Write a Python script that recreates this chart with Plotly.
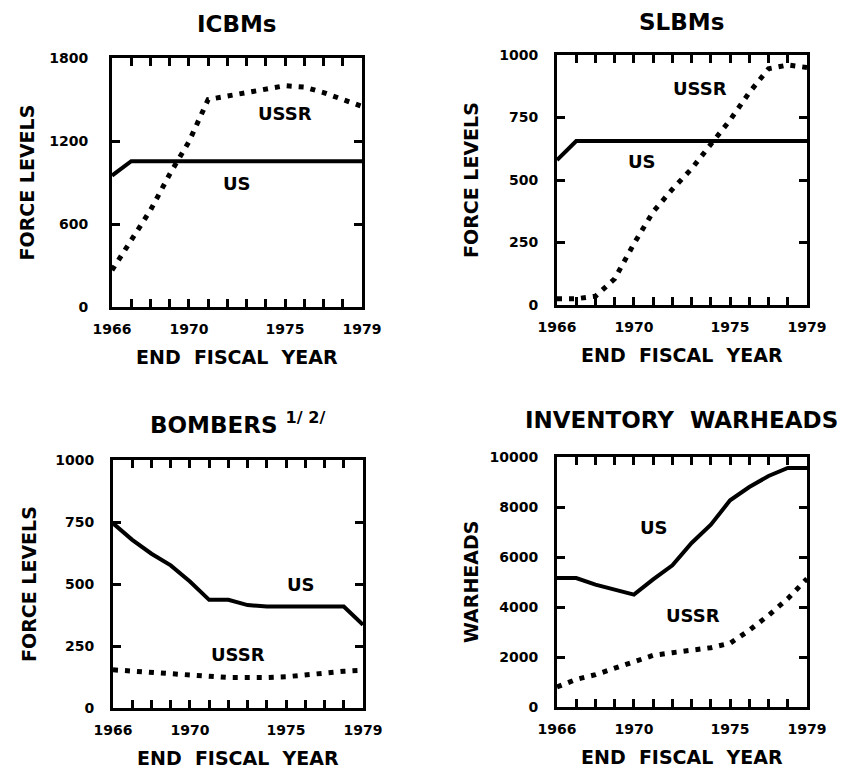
"""
Forces stratégiques US / URSS 1966-1979 — quatre petits graphiques.
"""

import plotly.graph_objects as go

# Données
YEARS = list(range(1966, 1980))
YEAR_LABELS = ["1966", "", "", "", "1970", "", "", "", "", "1975", "", "", "", "1979"]

ICBM_US = [950, 1054, 1054, 1054, 1054, 1054, 1054, 1054, 1054, 1054, 1054, 1054, 1054, 1054]
ICBM_USSR = [266, 488, 700, 960, 1195, 1500, 1525, 1550, 1580, 1600, 1590, 1550, 1500, 1450]

SLBM_US = [580, 656, 656, 656, 656, 656, 656, 656, 656, 656, 656, 656, 656, 656]
SLBM_USSR = [25, 25, 35, 105, 245, 373, 463, 545, 643, 740, 850, 945, 960, 950]

BOMB_US = [745, 678, 622, 575, 510, 436, 436, 415, 409, 409, 409, 409, 409, 336]
BOMB_USSR = [154, 148, 141, 137, 132, 128, 123, 121, 123, 126, 134, 141, 148, 152]

WARH_US = [5160, 5160, 4893, 4707, 4493, 5107, 5667, 6560, 7293, 8267, 8800, 9240, 9560, 9560]
WARH_USSR = [800, 1107, 1293, 1560, 1827, 2067, 2173, 2253, 2373, 2550, 3070, 3667, 4333, 5133]

ICBM_TICKS = [0, 600, 1200, 1800]
SLBM_TICKS = [0, 250, 500, 750, 1000]
BOMB_TICKS = [0, 250, 500, 750, 1000]
WARH_TICKS = [0, 2000, 4000, 6000, 8000, 10000]

W, H = 848, 771
OFF = 8  # marge du <body> de la page html
FONT = "DejaVu Sans"
NOIR = "black"


def px(x):
    return (x - OFF) / W


def py(y):
    return 1 - (y - OFF) / H


# zones des graphiques en pixels écran (gauche, droite, haut, bas)
PANELS = [
    dict(box=(112, 362, 58, 307), us=ICBM_US, ussr=ICBM_USSR, ticks=ICBM_TICKS,
         title="ICBMs", title_xy=(237, 24), ytitle="FORCE LEVELS", ytitle_x=27,
         us_lbl=(1972.5, 894), ussr_lbl=(1975.0, 1401), standoff=18),
    dict(box=(557, 807, 55, 305), us=SLBM_US, ussr=SLBM_USSR, ticks=SLBM_TICKS,
         title="SLBMs", title_xy=(681, 22), ytitle="FORCE LEVELS", ytitle_x=471,
         us_lbl=(1970.4, 573), ussr_lbl=(1973.45, 867), standoff=13),
    dict(box=(113, 363, 460, 708), us=BOMB_US, ussr=BOMB_USSR, ticks=BOMB_TICKS,
         title="BOMBERS <sup>1/ 2/</sup>", title_xy=(237, 423), ytitle="FORCE LEVELS", ytitle_x=29,
         us_lbl=(1975.75, 497), ussr_lbl=(1972.5, 215), standoff=13),
    dict(box=(557, 807, 457, 707), us=WARH_US, ussr=WARH_USSR, ticks=WARH_TICKS,
         title="INVENTORY  WARHEADS", title_xy=(681, 420), ytitle="WARHEADS", ytitle_x=471,
         us_lbl=(1971.05, 7200), ussr_lbl=(1973.05, 3667), standoff=13),
]

fig = go.Figure()
annotations = []


def texte(txt, x, y, size, angle=0, xref="paper", yref="paper"):
    return dict(
        text=txt, x=x, y=y, xref=xref, yref=yref, showarrow=False,
        xanchor="center", yanchor="middle", textangle=angle,
        font=dict(family=FONT, size=size, color=NOIR, weight="bold"),
    )


for i, p in enumerate(PANELS):
    n = "" if i == 0 else str(i + 1)
    xa, ya = "x" + n, "y" + n
    l, r, t, b = p["box"]

    fig.add_trace(go.Scatter(
        x=YEARS, y=p["us"], xaxis=xa, yaxis=ya, mode="lines",
        line=dict(color=NOIR, width=4), showlegend=False, hoverinfo="skip",
    ))
    fig.add_trace(go.Scatter(
        x=YEARS, y=p["ussr"], xaxis=xa, yaxis=ya, mode="lines",
        line=dict(color=NOIR, width=5, dash="5px,7px"), showlegend=False, hoverinfo="skip",
    ))

    axe_commun = dict(
        showline=True, linecolor=NOIR, linewidth=3, mirror="ticks",
        ticks="inside", ticklen=8, tickwidth=3, tickcolor=NOIR,
        showgrid=False, zeroline=False, fixedrange=True, automargin=False,
        tickfont=dict(family=FONT, size=14, color=NOIR, weight="bold"),
    )
    fig.update_layout({
        "xaxis" + n: dict(
            **axe_commun, domain=[px(l), px(r)], anchor=ya,
            range=[1966, 1979], tickvals=YEARS, ticktext=YEAR_LABELS,
            ticklabelstandoff=7,
        ),
        "yaxis" + n: dict(
            **axe_commun, domain=[py(b), py(t)], anchor=xa,
            range=[0, p["ticks"][-1]], tickvals=p["ticks"],
            ticktext=[str(v) for v in p["ticks"]],
            ticklabelstandoff=p["standoff"],
        ),
    })

    # titres et libellés
    annotations.append(texte(p["title"], px(p["title_xy"][0]), py(p["title_xy"][1]), 23))
    annotations.append(texte("END  FISCAL  YEAR", px((l + r) / 2), py(b + 50), 19))
    annotations.append(texte(p["ytitle"], px(p["ytitle_x"]), py((t + b) / 2), 19, angle=-90))
    annotations.append(texte("US", p["us_lbl"][0], p["us_lbl"][1], 18, xref=xa, yref=ya))
    annotations.append(texte("USSR", p["ussr_lbl"][0], p["ussr_lbl"][1], 18, xref=xa, yref=ya))

fig.update_layout(
    width=W, height=H,
    margin=dict(l=0, r=0, t=0, b=0),
    paper_bgcolor="white", plot_bgcolor="white",
    annotations=annotations,
)

fig.write_html("out.html")
